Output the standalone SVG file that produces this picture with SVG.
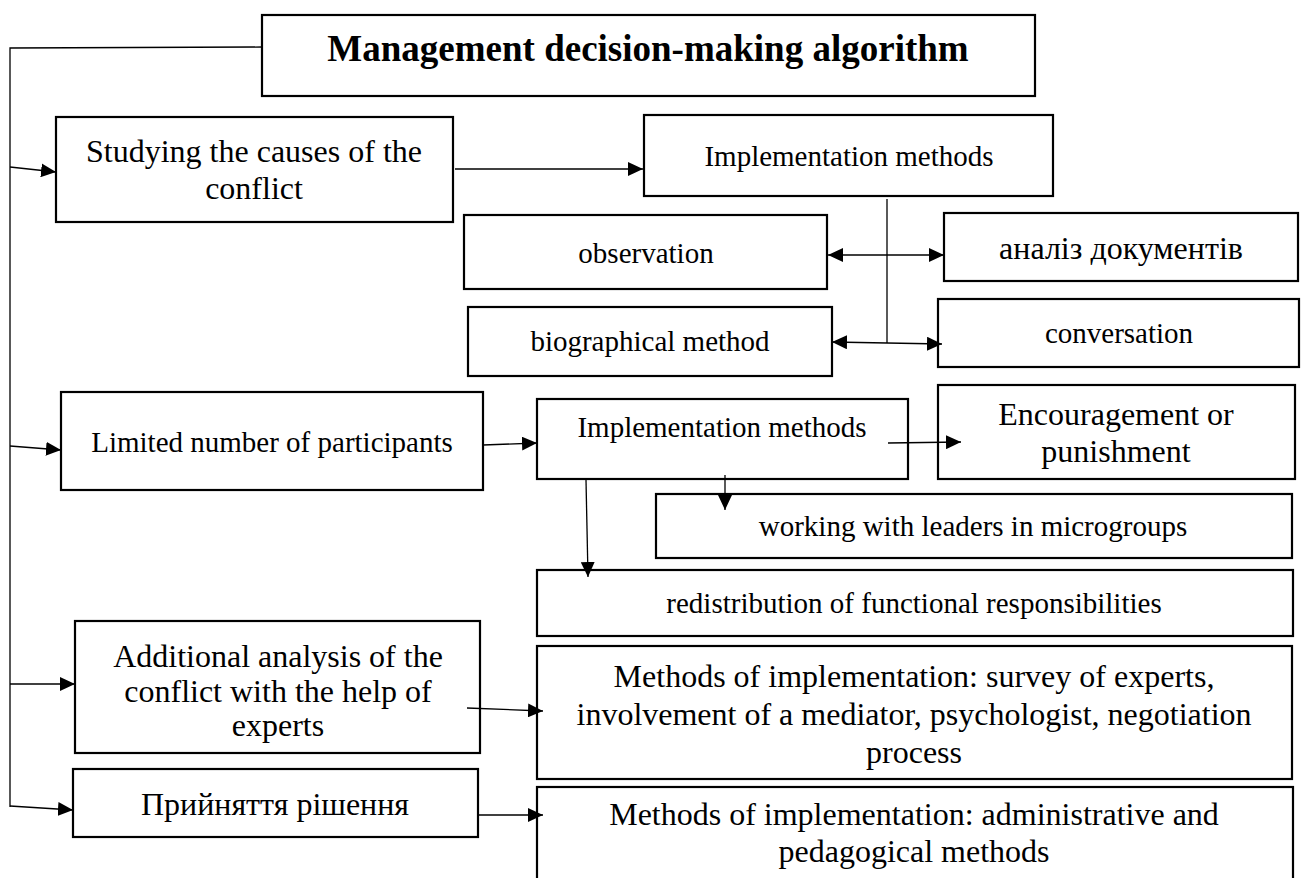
<svg xmlns="http://www.w3.org/2000/svg" width="1301" height="878" viewBox="0 0 1301 878">
  <style>
    .box { fill: #ffffff; stroke: #000000; stroke-width: 2.2; }
    .t { font-family: "Liberation Serif", "Times New Roman", serif; fill: #000000; text-anchor: middle; }
    .s29 { font-size: 29px; }
    .s32 { font-size: 32px; }
    .title { font-size: 37px; font-weight: bold; }
    .wire { fill: none; stroke: #000000; stroke-width: 1.3; }
    .arrow { fill: none; stroke: #000000; stroke-width: 1.3; marker-end: url(#head); }
    .both { fill: none; stroke: #000000; stroke-width: 1.3; marker-start: url(#headStart); marker-end: url(#head); }
  </style>
  <defs>
    <marker id="head" markerUnits="userSpaceOnUse" markerWidth="15" markerHeight="14" refX="15" refY="7" orient="auto">
      <path d="M0,0 L15,7 L0,14 Z" fill="#000000"/>
    </marker>
    <marker id="headStart" markerUnits="userSpaceOnUse" markerWidth="15" markerHeight="14" refX="15" refY="7" orient="auto-start-reverse">
      <path d="M0,0 L15,7 L0,14 Z" fill="#000000"/>
    </marker>
  </defs>

  <rect width="1301" height="878" fill="#ffffff"/>

  <g id="title">
    <rect class="box" x="262" y="15" width="773" height="81"/>
    <text class="t title" x="648" y="61">Management decision-making algorithm</text>
  </g>

  <g id="studying">
    <rect class="box" x="56" y="117" width="397" height="105"/>
    <text class="t s32" x="254" y="162">Studying the causes of the</text>
    <text class="t s32" x="254" y="199">conflict</text>
  </g>

  <g id="impl1">
    <rect class="box" x="644" y="115" width="409" height="81"/>
    <text class="t s29" x="849" y="166">Implementation methods</text>
  </g>

  <g id="observation">
    <rect class="box" x="464" y="215" width="363" height="74"/>
    <text class="t s29" x="646" y="263">observation</text>
  </g>

  <g id="documents">
    <rect class="box" x="944" y="213" width="354" height="68"/>
    <text class="t s32" x="1121" y="259">аналіз документів</text>
  </g>

  <g id="biographical">
    <rect class="box" x="468" y="307" width="364" height="69"/>
    <text class="t s29" x="650" y="351">biographical method</text>
  </g>

  <g id="conversation">
    <rect class="box" x="938" y="299" width="361" height="68"/>
    <text class="t s29" x="1119" y="343">conversation</text>
  </g>

  <g id="limited">
    <rect class="box" x="61" y="392" width="422" height="98"/>
    <text class="t s29" x="272" y="452">Limited number of participants</text>
  </g>

  <g id="impl2">
    <rect class="box" x="537" y="399" width="371" height="80"/>
    <text class="t s29" x="722" y="437">Implementation methods</text>
  </g>

  <g id="encouragement">
    <rect class="box" x="938" y="385" width="357" height="94"/>
    <text class="t s32" x="1116" y="425">Encouragement or</text>
    <text class="t s32" x="1116" y="462">punishment</text>
  </g>

  <g id="leaders">
    <rect class="box" x="656" y="494" width="636" height="64"/>
    <text class="t s29" x="973" y="536">working with leaders in microgroups</text>
  </g>

  <g id="redistribution">
    <rect class="box" x="537" y="570" width="756" height="66"/>
    <text class="t s29" x="914" y="613">redistribution of functional responsibilities</text>
  </g>

  <g id="additional">
    <rect class="box" x="75" y="621" width="405" height="132"/>
    <text class="t s32" x="278" y="667">Additional analysis of the</text>
    <text class="t s32" x="278" y="702">conflict with the help of</text>
    <text class="t s32" x="278" y="736">experts</text>
  </g>

  <g id="experts-methods">
    <rect class="box" x="537" y="646" width="755" height="133"/>
    <text class="t s32" x="914" y="687">Methods of implementation: survey of experts,</text>
    <text class="t s32" x="914" y="725">involvement of a mediator, psychologist, negotiation</text>
    <text class="t s32" x="914" y="763">process</text>
  </g>

  <g id="decision">
    <rect class="box" x="73" y="769" width="405" height="68"/>
    <text class="t s32" x="275" y="815">Прийняття рішення</text>
  </g>

  <g id="decision-methods">
    <rect class="box" x="537" y="787" width="756" height="100"/>
    <text class="t s32" x="914" y="825">Methods of implementation: administrative and</text>
    <text class="t s32" x="914" y="862">pedagogical methods</text>
  </g>

  <!-- connectors, drawn over the boxes so heads that dip into a box stay visible -->
  <g id="connectors">
    <path class="wire" d="M262,47 L10,48 L10,807"/>
    <path class="arrow" d="M10,167 L56,172"/>
    <path class="arrow" d="M10,446 L61,450"/>
    <path class="arrow" d="M10,684 L75,684"/>
    <path class="arrow" d="M10,806 L73,810"/>
    <path class="arrow" d="M455,169 L643,169"/>
    <path class="wire" d="M887,199 L887,343"/>
    <path class="both" d="M828,255 L944,255"/>
    <path class="both" d="M832,342 L942,344"/>
    <path class="arrow" d="M483,445 L537,443"/>
    <path class="arrow" d="M888,443 L961,442"/>
    <path class="arrow" d="M725,475 L725,510"/>
    <path class="arrow" d="M586,480 L588,577"/>
    <path class="arrow" d="M467,708 L543,711"/>
    <path class="arrow" d="M478,815 L543,815"/>
  </g>
</svg>
